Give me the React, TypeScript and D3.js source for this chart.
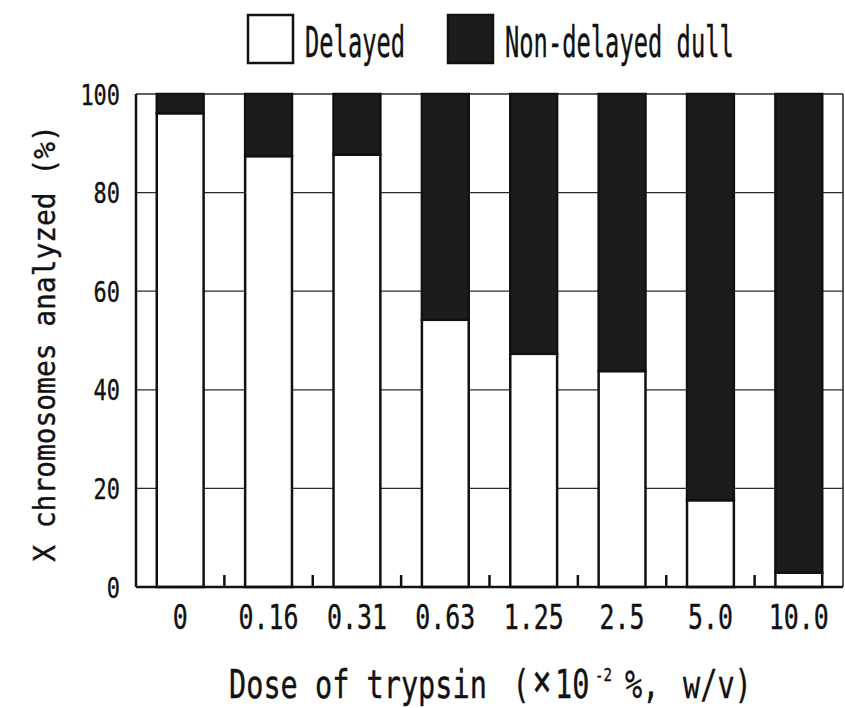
import React, { useRef, useEffect } from "react";
import * as d3 from "d3";

const doses = ["0", "0.16", "0.31", "0.63", "1.25", "2.5", "5.0", "10.0"];
const delayed = [96.1, 87.4, 87.7, 54.2, 47.3, 43.8, 17.6, 2.9];
const nonDelayed = [3.9, 12.6, 12.3, 45.8, 52.7, 56.2, 82.4, 97.1];
const yTicks = [0, 20, 40, 60, 80, 100];
const seriesKeys = ["delayed", "nonDelayed"];
const seriesNames = ["Delayed", "Non-delayed dull"];
const seriesColors = ["#ffffff", "#1c1c1c"];

const FONT = "'DejaVu Sans Mono', 'Liberation Mono', monospace";

// monospace text squeezed to the narrow look of the original font
function label(parent: any, str: string, x: number, y: number, capH: number, pitch: number, anchor = "start", rotate = 0) {
  const fs = capH / 0.729;
  const sx = pitch / (0.602 * fs);
  return parent
    .append("text")
    .attr("transform", `translate(${x},${y}) rotate(${rotate}) scale(${sx},1)`)
    .attr("font-family", FONT)
    .attr("font-size", fs)
    .attr("text-anchor", anchor)
    .attr("fill", "#111")
    .attr("stroke", "#111")
    .attr("stroke-width", 0.4)
    .text(str);
}

export default function App() {
  const svgRef = useRef<SVGSVGElement>(null);

  useEffect(() => {
    if (!svgRef.current) return;
    const width = 845;
    const height = 708;
    const left = 136;
    const right = 843;
    const top = 94;
    const bottom = 587;

    const svg = d3.select(svgRef.current).attr("width", width).attr("height", height);
    svg.selectAll("*").remove();
    svg.append("rect").attr("width", width).attr("height", height).attr("fill", "#fff");

    const x = d3.scaleBand().domain(doses).range([left, right]).paddingInner(0.47).paddingOuter(0.235);
    const y = d3.scaleLinear().domain([0, 100]).range([bottom, top]);

    // gridlines behind the bars
    svg
      .append("g")
      .selectAll("line")
      .data(yTicks.filter((t) => t > 0))
      .join("line")
      .attr("x1", left)
      .attr("x2", right)
      .attr("y1", (d) => y(d))
      .attr("y2", (d) => y(d))
      .attr("stroke", "#2a2a2a")
      .attr("stroke-width", 1.3);

    // right border
    svg.append("line").attr("x1", right).attr("x2", right).attr("y1", top).attr("y2", bottom)
      .attr("stroke", "#222").attr("stroke-width", 1.5);

    const rows = doses.map((d, i) => ({ dose: d, delayed: delayed[i], nonDelayed: nonDelayed[i] }));
    const stacked = d3.stack<any>().keys(seriesKeys)(rows);

    svg
      .append("g")
      .selectAll("g")
      .data(stacked)
      .join("g")
      .attr("fill", (_, i) => seriesColors[i])
      .selectAll("rect")
      .data((s) => s)
      .join("rect")
      .attr("x", (d: any) => x(d.data.dose)!)
      .attr("width", x.bandwidth())
      .attr("y", (d) => y(d[1]))
      .attr("height", (d) => y(d[0]) - y(d[1]))
      .attr("stroke", "#111")
      .attr("stroke-width", 2.5);

    // axes
    svg.append("line").attr("x1", left).attr("x2", right).attr("y1", bottom).attr("y2", bottom)
      .attr("stroke", "#111").attr("stroke-width", 2.5);
    svg.append("line").attr("x1", left).attr("x2", left).attr("y1", top).attr("y2", bottom)
      .attr("stroke", "#111").attr("stroke-width", 2.5);

    // category boundary ticks pointing up
    svg
      .append("g")
      .selectAll("line")
      .data(doses.slice(1))
      .join("line")
      .attr("x1", (d) => x(d)! - x.step() * x.paddingOuter())
      .attr("x2", (d) => x(d)! - x.step() * x.paddingOuter())
      .attr("y1", bottom)
      .attr("y2", bottom - 12)
      .attr("stroke", "#111")
      .attr("stroke-width", 2.5);

    // tick labels
    yTicks.forEach((t) => label(svg, String(t), 120, y(t) + 10.5, 21, 13.2, "end"));
    doses.forEach((d) => label(svg, d, x(d)! + x.bandwidth() / 2, 629, 24, 15, "middle"));

    // axis titles
    label(svg, "X chromosomes analyzed (%)", 55, 343.5, 22, 16.8, "middle", -90);
    label(svg, "Dose of trypsin", 229, 698, 28, 17.2);
    label(svg, "(", 521, 698, 28, 17.2, "middle");
    label(svg, "×", 542, 696, 32, 19, "middle");
    label(svg, "10", 555, 698, 28, 17.2);
    label(svg, "-2", 595, 681, 13, 8.5);
    label(svg, "%,", 625, 698, 28, 17.2);
    label(svg, "w/v)", 683, 698, 28, 17.2);

    // legend
    const legendX = [248, 448];
    seriesNames.forEach((name, i) => {
      svg.append("rect").attr("x", legendX[i]).attr("y", 15).attr("width", 45).attr("height", 48)
        .attr("fill", seriesColors[i]).attr("stroke", "#111").attr("stroke-width", 2.5);
      label(svg, name, legendX[i] + 57, 57, 31, 14.3);
    });
  }, []);

  return <svg ref={svgRef} style={{ position: "absolute", left: 0, top: 0 }} />;
}
